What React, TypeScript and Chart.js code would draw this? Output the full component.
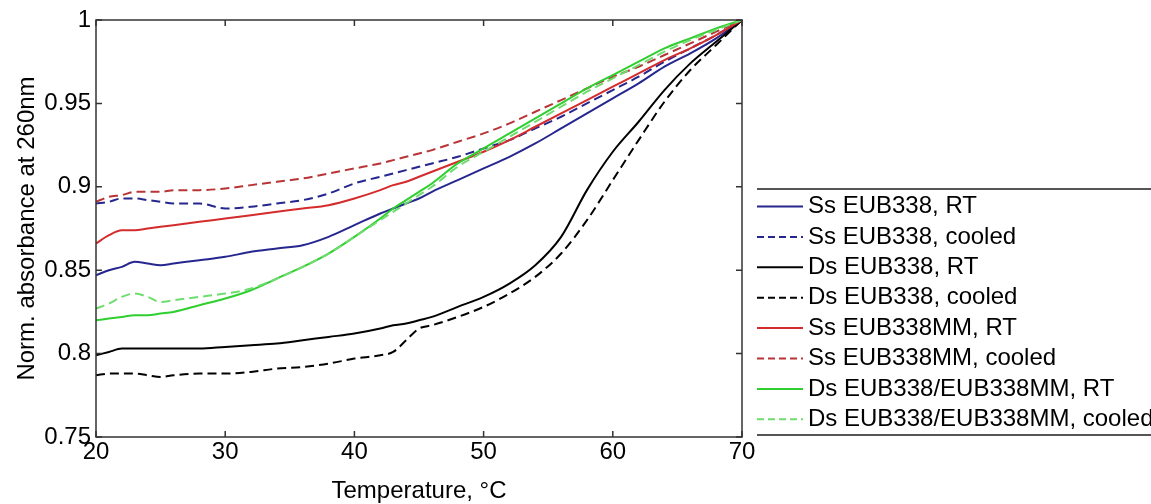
import React, { useEffect, useRef } from "react";
import { Chart, registerables } from "chart.js";

Chart.register(...registerables);

const FONT = "'Liberation Sans', Arial, Helvetica, sans-serif";

// Temperature grid (°C)
const temperature = [20, 21, 22, 23, 24, 25, 26, 28, 30, 32, 34, 36, 38, 40, 42, 43, 44, 45, 46, 48, 50, 52, 54, 56, 58, 60, 62, 64, 66, 68, 70];

// Series values (normalized absorbance at 260 nm)
const ssEUB338RT = [0.847, 0.850, 0.852, 0.855, 0.854, 0.853, 0.854, 0.856, 0.858, 0.861, 0.863, 0.865, 0.870, 0.877, 0.884, 0.887, 0.890, 0.893, 0.897, 0.904, 0.911, 0.918, 0.926, 0.935, 0.944, 0.953, 0.962, 0.972, 0.980, 0.989, 1.0];
const ssEUB338Cooled = [0.890, 0.891, 0.893, 0.893, 0.892, 0.891, 0.890, 0.890, 0.887, 0.888, 0.890, 0.892, 0.896, 0.902, 0.906, 0.908, 0.910, 0.912, 0.914, 0.918, 0.923, 0.928, 0.935, 0.942, 0.950, 0.958, 0.966, 0.975, 0.983, 0.991, 1.0];
const dsEUB338RT = [0.799, 0.801, 0.803, 0.803, 0.803, 0.803, 0.803, 0.803, 0.804, 0.805, 0.806, 0.808, 0.810, 0.812, 0.815, 0.817, 0.818, 0.820, 0.822, 0.828, 0.834, 0.842, 0.853, 0.870, 0.898, 0.921, 0.939, 0.958, 0.974, 0.987, 1.0];
const dsEUB338Cooled = [0.787, 0.788, 0.788, 0.788, 0.787, 0.786, 0.787, 0.788, 0.788, 0.789, 0.791, 0.792, 0.794, 0.797, 0.799, 0.801, 0.808, 0.815, 0.817, 0.822, 0.828, 0.836, 0.846, 0.860, 0.880, 0.904, 0.928, 0.951, 0.970, 0.985, 1.0];
const ssEUB338MMRT = [0.866, 0.871, 0.874, 0.874, 0.875, 0.876, 0.877, 0.879, 0.881, 0.883, 0.885, 0.887, 0.889, 0.893, 0.898, 0.901, 0.903, 0.906, 0.909, 0.915, 0.921, 0.928, 0.936, 0.944, 0.952, 0.960, 0.968, 0.976, 0.983, 0.991, 1.0];
const ssEUB338MMCooled = [0.891, 0.894, 0.895, 0.897, 0.897, 0.897, 0.898, 0.898, 0.899, 0.901, 0.903, 0.905, 0.908, 0.911, 0.914, 0.916, 0.918, 0.920, 0.922, 0.927, 0.932, 0.938, 0.945, 0.952, 0.959, 0.966, 0.972, 0.979, 0.986, 0.993, 1.0];
const dsMixRT = [0.820, 0.821, 0.822, 0.823, 0.823, 0.824, 0.825, 0.829, 0.833, 0.838, 0.845, 0.852, 0.860, 0.870, 0.881, 0.887, 0.892, 0.897, 0.902, 0.914, 0.923, 0.932, 0.941, 0.950, 0.959, 0.967, 0.975, 0.983, 0.989, 0.995, 1.0];
const dsMixCooled = [0.827, 0.830, 0.834, 0.836, 0.834, 0.831, 0.832, 0.834, 0.836, 0.839, 0.845, 0.852, 0.860, 0.870, 0.880, 0.885, 0.890, 0.895, 0.900, 0.912, 0.921, 0.930, 0.939, 0.948, 0.957, 0.965, 0.973, 0.981, 0.988, 0.994, 1.0];

const seriesLabels = [
  "Ss EUB338, RT",
  "Ss EUB338, cooled",
  "Ds EUB338, RT",
  "Ds EUB338, cooled",
  "Ss EUB338MM, RT",
  "Ss EUB338MM, cooled",
  "Ds EUB338/EUB338MM, RT",
  "Ds EUB338/EUB338MM, cooled",
];
const seriesValues = [ssEUB338RT, ssEUB338Cooled, dsEUB338RT, dsEUB338Cooled, ssEUB338MMRT, ssEUB338MMCooled, dsMixRT, dsMixCooled];

// Styles (kept apart from data)
const seriesColors = ["#26268f", "#26268f", "#000000", "#000000", "#d42c2c", "#b83436", "#2fcf2f", "#6fdc6f"];
const seriesDashed = [false, true, false, true, false, true, false, true];

// Axis ticks and titles
const xTickValues = [20, 30, 40, 50, 60, 70];
const yTickValues = [0.75, 0.8, 0.85, 0.9, 0.95, 1];
const xTitle = "Temperature, °C";
const yTitle = "Norm. absorbance at 260nm";

const framePlugin = {
  id: "frame",
  afterDatasetsDraw(chart: any) {
    const { ctx, chartArea: a, scales } = chart;
    ctx.save();
    ctx.strokeStyle = "#333";
    ctx.lineWidth = 1.5;
    ctx.setLineDash([]);
    ctx.strokeRect(a.left, a.top, a.right - a.left, a.bottom - a.top);
    const tl = 6;
    ctx.beginPath();
    xTickValues.forEach((v) => {
      const px = scales.x.getPixelForValue(v);
      ctx.moveTo(px, a.bottom);
      ctx.lineTo(px, a.bottom - tl);
      ctx.moveTo(px, a.top);
      ctx.lineTo(px, a.top + tl);
    });
    yTickValues.forEach((v) => {
      const py = scales.y.getPixelForValue(v);
      ctx.moveTo(a.left, py);
      ctx.lineTo(a.left + tl, py);
      ctx.moveTo(a.right, py);
      ctx.lineTo(a.right - tl, py);
    });
    ctx.stroke();
    ctx.restore();
  },
};

const legendPlugin = {
  id: "boxLegend",
  afterDraw(chart: any) {
    const { ctx, chartArea: a } = chart;
    const left = a.right + 15;
    const bottom = a.bottom - 2;
    const top = bottom - 246;
    ctx.save();
    ctx.strokeStyle = "#555";
    ctx.lineWidth = 2;
    ctx.setLineDash([]);
    ctx.beginPath();
    ctx.moveTo(left, top);
    ctx.lineTo(chart.width, top);
    ctx.moveTo(left, bottom);
    ctx.lineTo(chart.width, bottom);
    ctx.stroke();
    ctx.font = `24px ${FONT}`;
    ctx.textBaseline = "middle";
    ctx.textAlign = "left";
    chart.data.datasets.forEach((ds: any, i: number) => {
      const y = top + 17.5 + i * 30.4;
      ctx.strokeStyle = ds.borderColor;
      ctx.lineWidth = 2;
      ctx.setLineDash(seriesDashed[i] ? [7, 4] : []);
      ctx.beginPath();
      ctx.moveTo(left, y);
      ctx.lineTo(left + 46, y);
      ctx.stroke();
      ctx.fillStyle = "#000";
      ctx.fillText(ds.label, left + 51, y);
    });
    ctx.restore();
  },
};

export default function App() {
  const ref = useRef<HTMLCanvasElement>(null);
  useEffect(() => {
    const canvas = ref.current!;
    Chart.defaults.font.family = FONT;
    Chart.defaults.color = "#000";
    const chart = new Chart(canvas, {
      type: "line",
      data: {
        datasets: seriesValues.map((vals, i) => ({
          label: seriesLabels[i],
          data: temperature.map((t, j) => ({ x: t, y: vals[j] })),
          borderColor: seriesColors[i],
          backgroundColor: seriesColors[i],
          borderDash: seriesDashed[i] ? [9, 5] : [],
          borderWidth: 2,
          pointRadius: 0,
          fill: false,
          cubicInterpolationMode: "monotone",
          order: 10 - i,
        })),
      },
      options: {
        responsive: false,
        animation: false,
        maintainAspectRatio: false,
        layout: { padding: { left: 0, right: 409, top: 20, bottom: 0 } },
        plugins: { legend: { display: false }, tooltip: { enabled: false } },
        scales: {
          x: {
            type: "linear",
            min: 20,
            max: 70,
            afterBuildTicks: (s: any) => {
              s.ticks = xTickValues.map((v) => ({ value: v }));
            },
            afterFit: (s: any) => {
              s.height = 67;
            },
            grid: { display: false, drawTicks: false },
            border: { display: false },
            ticks: {
              font: { size: 24, lineHeight: 1 },
              color: "#000",
              padding: 3,
              maxRotation: 0,
              autoSkip: false,
              callback: (v: any) => String(v),
            },
            title: {
              display: true,
              text: xTitle,
              color: "#000",
              font: { size: 24, lineHeight: 1 },
              padding: { top: 0, bottom: 1 },
            },
          },
          y: {
            type: "linear",
            min: 0.75,
            max: 1,
            afterBuildTicks: (s: any) => {
              s.ticks = yTickValues.map((v) => ({ value: v }));
            },
            afterFit: (s: any) => {
              s.width = 96;
            },
            grid: { display: false, drawTicks: false },
            border: { display: false },
            ticks: {
              font: { size: 24, lineHeight: 1 },
              color: "#000",
              padding: 5,
              autoSkip: false,
              callback: (v: any) => String(v),
            },
            title: {
              display: true,
              text: yTitle,
              color: "#000",
              font: { size: 24, lineHeight: 1 },
              padding: { top: 15, bottom: 0 },
            },
          },
        },
      },
      plugins: [framePlugin, legendPlugin],
    } as any);
    return () => chart.destroy();
  }, []);
  return (
    <div style={{ position: "fixed", left: 0, top: 0, width: 1151, height: 504, background: "#fff", overflow: "hidden" }}>
      <canvas ref={ref} width={1151} height={504} style={{ width: "1151px", height: "504px", display: "block" }} />
    </div>
  );
}
